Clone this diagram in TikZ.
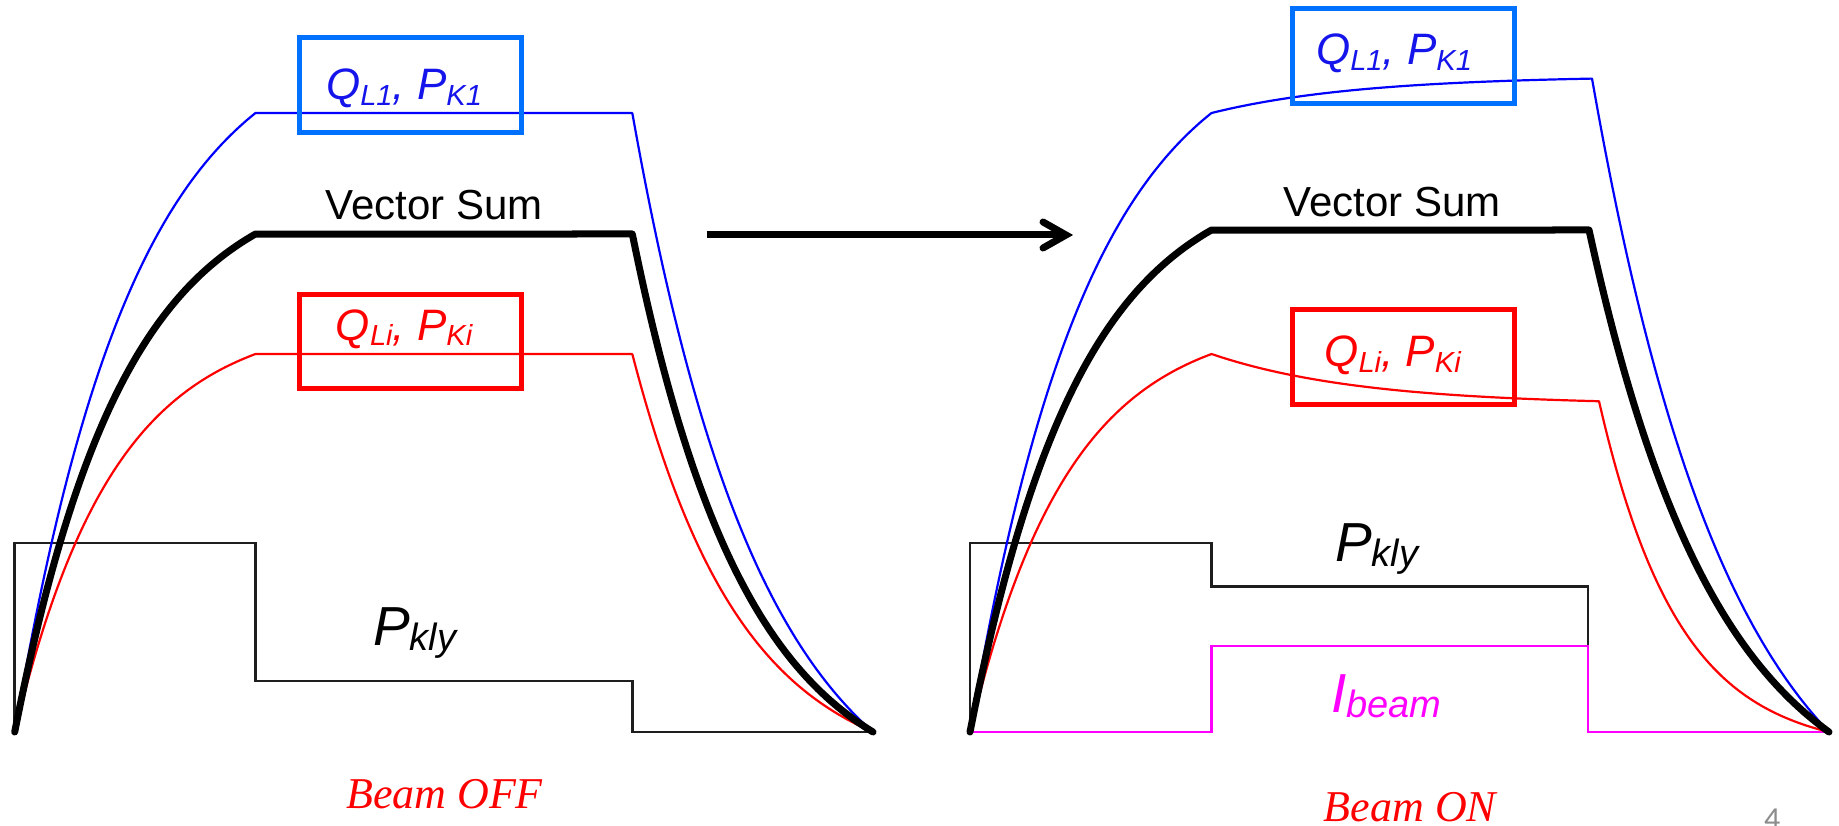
\documentclass[tikz,border=0pt]{standalone}
\usepackage{fontspec}
\setmainfont{Liberation Sans}
\newfontfamily\serffont{Liberation Serif}
\newfontfamily\pgnumfont{Carlito}
\definecolor{curveblue}{RGB}{0,0,255}
\definecolor{boxblue}{RGB}{0,112,255}
\definecolor{labelblue}{RGB}{20,20,235}
\definecolor{pred}{RGB}{255,0,0}
\definecolor{pmag}{RGB}{255,0,255}
\definecolor{pkly}{RGB}{30,30,30}
\definecolor{pgray}{RGB}{140,140,140}
\newcommand{\lowsub}[2]{{\fontsize{#1}{#1}\selectfont\raisebox{-5.5pt}{#2}}}
\begin{document}
\begin{tikzpicture}[x=1pt,y=-1pt,
  thincurve/.style={line width=2.2pt, line join=round},
  sumcurve/.style={line width=7pt, line join=round, line cap=round},
  stepline/.style={line width=2.5pt, draw=pkly, line join=miter},
  beamline/.style={line width=2.5pt, draw=pmag, line join=miter},
  labelbox/.style={line width=5pt},
  qlabel/.style={anchor=base, inner sep=0pt, font=\fontsize{44}{44}\selectfont\itshape},
  vslabel/.style={anchor=base, inner sep=0pt, font=\fontsize{42}{42}\selectfont},
  biglabel/.style={anchor=base west, inner sep=0pt, font=\fontsize{55}{55}\selectfont\itshape},
  beamlabel/.style={anchor=base, inner sep=0pt, text=pred, font=\fontsize{44}{44}\selectfont\serffont\itshape},
  arrowline/.style={line width=7pt, draw=black}
]
\useasboundingbox (0,0) rectangle (1839,826);

% ---------------- Beam OFF (left) ----------------
% klystron power
\draw[stepline] (14.7,732) -- (14.7,543) -- (255.5,543) -- (255.5,681) -- (632.3,681) -- (632.3,732) -- (873,732);
% red curve
\draw[thincurve, pred] plot[domain=0:240.8, samples=80] ({14.7+\x},{732-378*(1-exp(-\x/100))/(1-exp(-240.8/100))})
  -- (632.3,354) -- plot[domain=0:240.7, samples=80] ({632.3+\x},{732-378*(exp(-\x/110)-exp(-240.7/110))/(1-exp(-240.7/110))});
% blue curve
\draw[thincurve, curveblue] plot[domain=0:240.8, samples=80] ({14.7+\x},{732-619*(1-exp(-\x/120))/(1-exp(-240.8/120))})
  -- (632.3,113) -- plot[domain=0:240.7, samples=80] ({632.3+\x},{732-619*(exp(-\x/130)-exp(-240.7/130))/(1-exp(-240.7/130))});
% vector sum
\draw[sumcurve] plot[domain=0:240.8, samples=80] ({14.7+\x},{732-498*(1-exp(-\x/110))/(1-exp(-240.8/110))})
  -- (632.3,234) -- plot[domain=0:240.7, samples=80] ({632.3+\x},{732-498*(exp(-\x/115)-exp(-240.7/115))/(1-exp(-240.7/115))});
% boxes
\draw[labelbox, boxblue] (299.5,37.5) rectangle (521,133);
\draw[labelbox, pred] (299.5,294.3) rectangle (521,388.3);
% labels
\node[qlabel, text=labelblue] (qlonel) at (404,100) {Q\lowsub{29}{L1}, P\lowsub{29}{K1}};
\node[qlabel, text=pred] (qlil) at (404,340) {Q\lowsub{29}{Li}, P\lowsub{29}{Ki}};
\node[vslabel] (vsl) at (434,220) {Vector Sum};
\node[biglabel] (pklyl) at (373,645) {P\lowsub{38}{kly}};
\node[beamlabel] (boff) at (444.5,808) {Beam OFF};

% ---------------- arrow ----------------
\coordinate (arrS) at (706.7,235);
\coordinate (arrV) at (1066,235);
\coordinate (arrB1) at (1043,222);
\coordinate (arrB2) at (1043,248);
\draw[arrowline] (arrS) -- (arrV);
\draw[arrowline, line cap=round, line join=miter] (arrB1) -- (arrV) -- (arrB2);

% ---------------- Beam ON (right) ----------------
\draw[stepline] (970,732) -- (970,543) -- (1211.5,543) -- (1211.5,586.5) -- (1588,586.5) -- (1588,646);
\draw[beamline] (970,732) -- (1211.5,732) -- (1211.5,646) -- (1588,646) -- (1588,732) -- (1829,732);
% red curve
\draw[thincurve, pred] plot[domain=0:241.5, samples=80] ({970+\x},{732-378*(1-exp(-\x/100))/(1-exp(-241.5/100))})
  -- plot[domain=0:387.5, samples=60] ({1211.5+\x},{354+51.1*(1-exp(-\x/150))})
  -- plot[domain=0:230, samples=80] ({1599+\x},{732-330.8*(exp(-\x/80)-exp(-230/80))/(1-exp(-230/80))});
% blue curve
\draw[thincurve, curveblue] plot[domain=0:241.5, samples=80] ({970+\x},{732-619*(1-exp(-\x/120))/(1-exp(-241.5/120))})
  -- plot[domain=0:380.5, samples=60] ({1211.5+\x},{113-37.35*(1-exp(-\x/150))})
  -- plot[domain=0:237, samples=80] ({1592+\x},{732-653.4*(exp(-\x/140)-exp(-237/140))/(1-exp(-237/140))});
% vector sum
\draw[sumcurve] plot[domain=0:241.5, samples=80] ({970+\x},{732-502*(1-exp(-\x/110))/(1-exp(-241.5/110))})
  -- (1589,230) -- plot[domain=0:240, samples=80] ({1589+\x},{732-502*(exp(-\x/130)-exp(-240/130))/(1-exp(-240/130))});
% boxes
\draw[labelbox, boxblue] (1292,9) rectangle (1514.5,104);
\draw[labelbox, pred] (1292,309.5) rectangle (1514.5,404.7);
% labels
\node[qlabel, text=labelblue] (qloner) at (1394,65) {Q\lowsub{29}{L1}, P\lowsub{29}{K1}};
\node[qlabel, text=pred] (qlir) at (1392.5,366.7) {Q\lowsub{29}{Li}, P\lowsub{29}{Ki}};
\node[vslabel] (vsr) at (1392,217) {Vector Sum};
\node[biglabel] (pklyr) at (1335,561) {P\lowsub{38}{kly}};
\node[biglabel, text=pmag] (ibeam) at (1331,712) {I\lowsub{38}{beam}};
\node[beamlabel] (bon) at (1410,821) {Beam ON};

% page number
\node[anchor=base west, inner sep=0pt, text=pgray, font=\fontsize{32}{32}\selectfont\pgnumfont] (pnum) at (1764,829) {4};
\end{tikzpicture}
\end{document}
